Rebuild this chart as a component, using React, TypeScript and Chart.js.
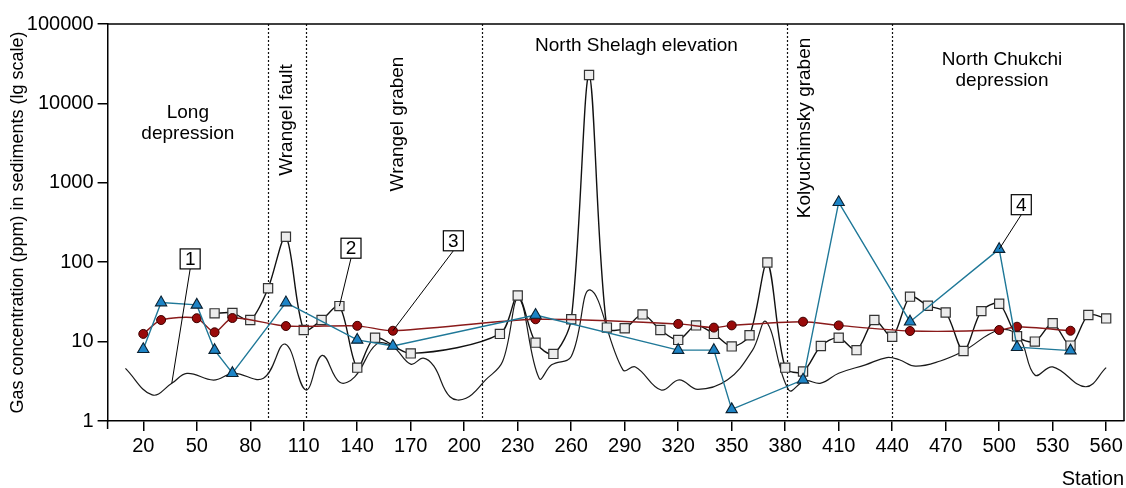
import React, { useEffect, useRef } from 'react';
import { Chart, registerables } from 'chart.js';

Chart.register(...registerables);

const FONT = "'Liberation Sans', Arial, Helvetica, sans-serif";

// Axis ticks
const stationTicks = [20, 50, 80, 110, 140, 170, 200, 230, 260, 290, 320, 350, 380, 410, 440, 470, 500, 530, 560];
const concentrationTicks = [1, 10, 100, 1000, 10000, 100000];

// Series 1: thin smooth curve (no markers)
const curve1Stations = [10, 25, 36, 44.5, 59.4, 70.6, 87.4, 99.6, 111.2, 120.3, 130.2, 138.6, 150.8, 160, 170, 177, 183, 192, 201, 212, 221.5, 230.5, 242, 249, 260, 270.6, 289, 296, 310.4, 320.6, 331, 347.7, 361.7, 369.3, 382, 391, 400, 410, 425, 437, 444, 453, 467, 480, 500, 511, 520, 530, 548.5, 560];
const curve1Values = [4.6, 2.13, 2.98, 3.98, 3.28, 3.98, 3.45, 9.3, 2.46, 6.7, 3.07, 3.6, 9.3, 8.6, 5.2, 6.2, 4.9, 2.02, 1.93, 3.3, 5.6, 35, 3.45, 5.1, 6.5, 44.8, 4.4, 4.8, 2.46, 3.3, 2.5, 3.3, 7.8, 17.8, 2.46, 3.2, 3.0, 4.0, 5.1, 6.3, 5.9, 4.9, 5.7, 7.6, 14, 11.5, 3.8, 4.8, 2.7, 4.7];

// Series 2: white squares
const squareStations = [60, 70, 80, 90, 100, 110, 120, 130, 140, 150, 170, 220, 230, 240, 250, 260, 270, 280, 290, 300, 310, 320, 330, 340, 350, 360, 370, 380, 390, 400, 410, 420, 430, 440, 450, 460, 470, 480, 490, 500, 510, 520, 530, 540, 550, 560];
const squareValues = [22.7, 23, 18.7, 47, 209, 14, 18.7, 28, 4.7, 11.2, 7.1, 12.5, 38, 9.7, 7.0, 19.1, 22800, 15, 14.7, 22, 14, 10.5, 16, 12.5, 8.7, 12, 99, 4.7, 4.2, 8.8, 11.2, 7.8, 18.7, 11.5, 36.8, 28.3, 23.3, 7.6, 24.2, 30, 11.7, 10, 17, 8.9, 21.6, 19.6];

// Series 3: dark red circles
const circleStations = [20, 30, 50, 60, 70, 100, 140, 160, 240, 320, 340, 350, 390, 410, 450, 500, 510, 540];
const circleValues = [12.5, 18.7, 19.7, 13.1, 19.8, 15.7, 15.8, 13.7, 19.1, 16.7, 15, 16, 17.8, 16, 13.6, 14, 15.4, 13.7];

// Series 4: blue triangles
const triangleStations = [20, 30, 50, 60, 70, 100, 140, 160, 240, 320, 340, 350, 390, 410, 450, 500, 510, 540];
const triangleValues = [8, 31, 29, 7.8, 4, 31, 10.5, 8.8, 21.6, 7.8, 7.8, 1.4, 3.3, 568, 17.8, 146, 8.5, 7.7];

// Structural boundaries (stations)
const boundaryStations = [90, 111, 210, 381, 440];

// Region names
const regionNames = [['Long', 'depression'], ['Wrangel fault'], ['Wrangel graben'], ['North Shelagh elevation'], ['Kolyuchimsky graben'], ['North Chukchi', 'depression']];
const regionStations = [45, 100.4, 162.7, 296.6, 391.2, 501.6];
const regionValues = [7570, 6180, 5500, 52800, 4900, 35900];
const regionVertical = [false, true, true, false, true, false];

// Numbered call-outs
const calloutLabels = ['1', '2', '3', '4'];
const calloutStations = [46.3, 136.5, 193.9, 512.4];
const calloutValues = [110, 150, 186, 530];
const calloutTargetStations = [36, 130, 160, 500];
const calloutTargetValues = [2.98, 28, 13.7, 146];

const zip = (xs: number[], ys: number[]) => xs.map((x, i) => ({ x, y: ys[i] }));

const overlayPlugin = {
  id: 'overlay',
  beforeDatasetsDraw(chart: any) {
    const { ctx, chartArea, scales } = chart;
    const xs = scales.x;
    ctx.save();
    ctx.strokeStyle = '#111';
    ctx.lineWidth = 1.2;
    ctx.setLineDash([2, 2]);
    boundaryStations.forEach((s) => {
      const px = Math.round(xs.getPixelForValue(s)) + 0.5;
      ctx.beginPath();
      ctx.moveTo(px, chartArea.top);
      ctx.lineTo(px, chartArea.bottom);
      ctx.stroke();
    });
    ctx.restore();
  },
  afterDatasetsDraw(chart: any) {
    const { ctx, chartArea, scales } = chart;
    const xs = scales.x;
    const ys = scales.y;
    ctx.save();
    // frame: top and right
    ctx.strokeStyle = '#000';
    ctx.lineWidth = 1.5;
    ctx.beginPath();
    ctx.moveTo(chartArea.left, chartArea.top);
    ctx.lineTo(chartArea.right, chartArea.top);
    ctx.lineTo(chartArea.right, chartArea.bottom);
    ctx.stroke();
    // small downward extension at origin
    ctx.beginPath();
    ctx.moveTo(chartArea.left, chartArea.bottom);
    ctx.lineTo(chartArea.left, chartArea.bottom + 8);
    ctx.stroke();

    // region names
    ctx.fillStyle = '#000';
    ctx.font = `19px ${FONT}`;
    ctx.textAlign = 'center';
    ctx.textBaseline = 'middle';
    regionNames.forEach((lines, i) => {
      const px = xs.getPixelForValue(regionStations[i]);
      const py = ys.getPixelForValue(regionValues[i]);
      if (regionVertical[i]) {
        ctx.save();
        ctx.translate(px, py);
        ctx.rotate(-Math.PI / 2);
        ctx.fillText(lines[0], 0, 0);
        ctx.restore();
      } else {
        lines.forEach((ln, j) => ctx.fillText(ln, px, py + j * 21));
      }
    });

    // callouts
    calloutLabels.forEach((lab, i) => {
      const bx = xs.getPixelForValue(calloutStations[i]);
      const by = ys.getPixelForValue(calloutValues[i]);
      const tx = xs.getPixelForValue(calloutTargetStations[i]);
      const ty = ys.getPixelForValue(calloutTargetValues[i]);
      ctx.strokeStyle = '#000';
      ctx.lineWidth = 1;
      ctx.beginPath();
      ctx.moveTo(bx, by + 10);
      ctx.lineTo(tx, ty);
      ctx.stroke();
      ctx.fillStyle = '#fff';
      ctx.fillRect(bx - 10, by - 10, 20, 20);
      ctx.lineWidth = 1.2;
      ctx.strokeRect(bx - 10, by - 10, 20, 20);
      ctx.fillStyle = '#000';
      ctx.font = `19px ${FONT}`;
      ctx.fillText(lab, bx, by + 1);
    });
    ctx.restore();
  },
};

export default function App() {
  const ref = useRef<HTMLCanvasElement | null>(null);

  useEffect(() => {
    document.body.style.margin = '0';
    if (!ref.current) return;
    Chart.defaults.font.family = FONT;
    const chart = new Chart(ref.current, {
      type: 'line',
      data: {
        datasets: [
          {
            label: '1',
            data: zip(curve1Stations, curve1Values),
            borderColor: '#1a1a1a',
            borderWidth: 1.2,
            pointRadius: 0,
            tension: 0.4,
            order: 4,
          },
          {
            label: '2',
            data: zip(squareStations, squareValues),
            borderColor: '#111',
            borderWidth: 1.4,
            pointStyle: 'rect',
            pointRadius: 6.5,
            pointBackgroundColor: '#ececec',
            pointBorderColor: '#333',
            pointBorderWidth: 1.2,
            tension: 0.3,
            order: 3,
          },
          {
            label: '3',
            data: zip(circleStations, circleValues),
            borderColor: '#8a1a1a',
            borderWidth: 1.4,
            pointStyle: 'circle',
            pointRadius: 4.5,
            pointBackgroundColor: '#990a0a',
            pointBorderColor: '#3a0000',
            pointBorderWidth: 1,
            tension: 0.25,
            order: 2,
          },
          {
            label: '4',
            data: zip(triangleStations, triangleValues),
            borderColor: '#1f7898',
            borderWidth: 1.4,
            pointStyle: 'triangle',
            pointRadius: 6.5,
            pointBackgroundColor: '#1d84c6',
            pointBorderColor: '#0a2030',
            pointBorderWidth: 1.1,
            tension: 0,
            order: 1,
          },
        ],
      },
      options: {
        responsive: false,
        animation: false,
        layout: { autoPadding: false, padding: { left: 0, right: 2, top: 24, bottom: 0 } },
        plugins: { legend: { display: false }, tooltip: { enabled: false } },
        scales: {
          x: {
            type: 'linear',
            min: 0,
            max: 570,
            afterBuildTicks: (s: any) => {
              s.ticks = stationTicks.map((v) => ({ value: v }));
            },
            afterFit: (s: any) => {
              s.height = 67;
              s.paddingLeft = 0;
              s.paddingRight = 0;
            },
            ticks: {
              color: '#000',
              font: { size: 20, family: FONT },
              padding: 3,
              maxRotation: 0,
              autoSkip: false,
              callback: (v: any) => String(v),
            },
            grid: { drawOnChartArea: false, drawTicks: true, tickLength: 10, color: '#000', lineWidth: 1.5 },
            border: { color: '#000', width: 1.5 },
            title: {
              display: true,
              text: 'Station',
              align: 'end',
              color: '#000',
              font: { size: 20, family: FONT },
              padding: { top: 0, bottom: -3 },
            },
          },
          y: {
            type: 'logarithmic',
            min: 1,
            max: 100000,
            afterBuildTicks: (s: any) => {
              s.ticks = concentrationTicks.map((v) => ({ value: v }));
            },
            afterFit: (s: any) => {
              s.width = 107.6;
              s.paddingTop = 0;
              s.paddingBottom = 0;
            },
            ticks: {
              color: '#000',
              font: { size: 20, family: FONT },
              padding: 4,
              autoSkip: false,
              callback: (v: any) => String(v),
            },
            grid: { drawOnChartArea: false, drawTicks: true, tickLength: 10, color: '#000', lineWidth: 1.5 },
            border: { color: '#000', width: 1.5 },
            title: {
              display: true,
              text: 'Gas concentration (ppm) in sediments (lg scale)',
              color: '#000',
              font: { size: 18, family: FONT },
              padding: { top: 7, bottom: 0 },
            },
          },
        },
      },
      plugins: [overlayPlugin],
    } as any);
    return () => chart.destroy();
  }, []);

  return (
    <div style={{ width: 1126, height: 488 }}>
      <canvas ref={ref} width={1126} height={488} style={{ display: 'block' }} />
    </div>
  );
}
